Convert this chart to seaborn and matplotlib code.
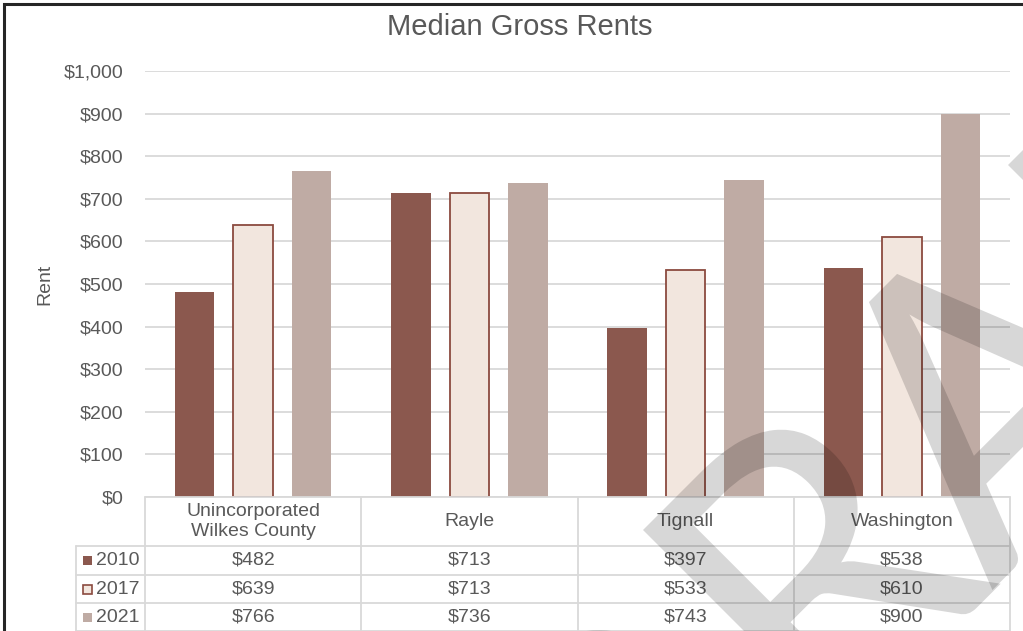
import matplotlib
matplotlib.use("Agg")
import numpy as np
import matplotlib.pyplot as plt
import matplotlib.transforms as mtransforms
import matplotlib.patheffects as pe
from matplotlib.lines import Line2D
from matplotlib.patches import Rectangle
from matplotlib.textpath import TextPath
from matplotlib.font_manager import FontProperties
import pandas as pd
import seaborn as sns

# ---- data -------------------------------------------------------------
places = ["Unincorporated\nWilkes County", "Rayle", "Tignall", "Washington"]
years = ["2010", "2017", "2021"]
rent_2010 = [482, 713, 397, 538]
rent_2017 = [639, 713, 533, 610]
rent_2021 = [766, 736, 743, 900]
y_ticks = [0, 100, 200, 300, 400, 500, 600, 700, 800, 900, 1000]

series = {"2010": rent_2010, "2017": rent_2017, "2021": rent_2021}
df = pd.DataFrame(
    [(p, yr, v) for yr, vals in series.items() for p, v in zip(places, vals)],
    columns=["place", "year", "rent"],
)

# ---- style ------------------------------------------------------------
fill = {"2010": "#8B584E", "2017": "#F2E6DE", "2021": "#BFABA4"}
edge_2017 = "#8B4A3F"
text_col = "#595959"
grid_col = "#D9D9D9"

W, H = 1023, 631
sns.set_theme(style="white")
plt.rcParams["font.family"] = ["Liberation Sans", "DejaVu Sans"]

fig = plt.figure(figsize=(W / 100, H / 100), dpi=100)
fig.patch.set_facecolor("white")


def fx(px):
    return px / W


def fy(py):
    return 1 - py / H


ax = fig.add_axes([fx(145), fy(497), fx(1010) - fx(145), fy(71) - fy(497)])

sns.barplot(
    data=df, x="place", y="rent", hue="year", hue_order=years,
    palette=fill, width=0.8125, gap=0.325, saturation=1,
    legend=False, ax=ax, zorder=2,
)
for yr, cont in zip(years, ax.containers):
    for bar in cont:
        if yr == "2017":
            bar.set_edgecolor(edge_2017)
            bar.set_linewidth(1.3)
        else:
            bar.set_edgecolor("none")
            bar.set_linewidth(0)

ax.set_xlim(-0.5, len(places) - 0.5)
ax.set_ylim(0, 1000)
ax.set_yticks(y_ticks)
ax.set_yticklabels([f"${v:,}" for v in y_ticks], color=text_col, fontsize=14)
ax.tick_params(axis="y", length=0, pad=15.5)
ax.set_xticks([])
ax.set_xlabel("")
ax.set_ylabel("")
ax.yaxis.grid(True, color=grid_col, linewidth=1.3)
ax.set_axisbelow(True)
for s in ax.spines.values():
    s.set_visible(False)

# ---- titles -----------------------------------------------------------
fig.text(fx(520), fy(27), "Median Gross Rents", ha="center", va="center",
         fontsize=21, color=text_col)
fig.text(fx(45), fy(284), "Rent", ha="center", va="center", rotation=90,
         fontsize=14, color=text_col)

# ---- data table under the axis ---------------------------------------
bt = mtransforms.blended_transform_factory(ax.transData, fig.transFigure)
row_top = 497
row_lines = [546, 575, 603, 631]
leg_left = 76


def hline(x0, x1, py):
    fig.add_artist(Line2D([fx(x0), fx(x1)], [fy(py), fy(py)],
                          transform=fig.transFigure, color=grid_col, lw=1.3))


def vline(px, y0, y1):
    fig.add_artist(Line2D([fx(px), fx(px)], [fy(y0), fy(y1)],
                          transform=fig.transFigure, color=grid_col, lw=1.3))


hline(145, 1010, row_top)
for py in row_lines:
    hline(leg_left, 1010, py)
vline(leg_left, row_lines[0], H + 5)
for i in range(len(places) + 1):
    xd = i - 0.5
    fig.add_artist(Line2D([xd, xd], [fy(row_top), fy(H + 5)], transform=bt,
                          color=grid_col, lw=1.3))

header_y = (row_top + row_lines[0]) / 2
for i, p in enumerate(places):
    fig.text(i, fy(header_y), p, transform=bt, ha="center", va="center",
             fontsize=14, color=text_col, linespacing=1.2)

row_centers = [560.5, 589, 617]
for yr, yc in zip(years, row_centers):
    for i, v in enumerate(series[yr]):
        fig.text(i, fy(yc), f"${v:,}", transform=bt, ha="center", va="center",
                 fontsize=14, color=text_col)
    sq = 9
    fig.add_artist(Rectangle((fx(83), fy(yc + sq / 2)), fx(sq), sq / H,
                             transform=fig.transFigure, facecolor=fill[yr],
                             edgecolor=edge_2017 if yr == "2017" else "none",
                             lw=1.2))
    fig.text(fx(96), fy(yc), yr, ha="left", va="center", fontsize=14,
             color=text_col)

# ---- frame ------------------------------------------------------------
fig.add_artist(Rectangle((fx(3.5), fy(H + 20)), fx(W + 40), (H + 16.5) / H,
                         transform=fig.transFigure, facecolor="none",
                         edgecolor="#262626", lw=2.2))

# ---- diagonal "DRAFT" watermark, one letter at a time -----------------
wm_font = FontProperties(family="Lato")
wm_em = 406.0                      # glyph size in pixels
wm_pt = wm_em * 72 / 100
ang = np.radians(45)
u = np.array([np.cos(ang), np.sin(ang)])    # along the baseline
v = np.array([-np.sin(ang), np.cos(ang)])   # glyph "up"


def ink(ch):
    return TextPath((0, 0), ch, size=wm_em, prop=wm_font).get_extents()


def disp(px, py):
    return np.array([px, H - py], dtype=float)


bD, bR, bA, bF, bT = (ink(c) for c in "DRAFT")
o_R = disp(643, 530) - bR.x0 * u - bR.y1 * v
o_A = disp(883, 288) - 0.5 * (bA.x0 + bA.x1) * u - bA.y1 * v
o_F = disp(1008, 165) - bF.x0 * u - bF.y1 * v
o_D = o_R + (bR.x0 - 62 - bD.x1) * u
o_T = o_F + (bF.x1 + 8 - bT.x0) * u

for ch, o in zip("DRAFT", (o_D, o_R, o_A, o_F, o_T)):
    fig.text(o[0] / W, o[1] / H, ch, ha="left", va="baseline",
             rotation=45, rotation_mode="anchor", fontproperties=wm_font,
             fontsize=wm_pt, color="black", alpha=0.155, zorder=20,
             path_effects=[pe.Normal()])

fig.savefig("out.png", dpi=100, facecolor="white")
